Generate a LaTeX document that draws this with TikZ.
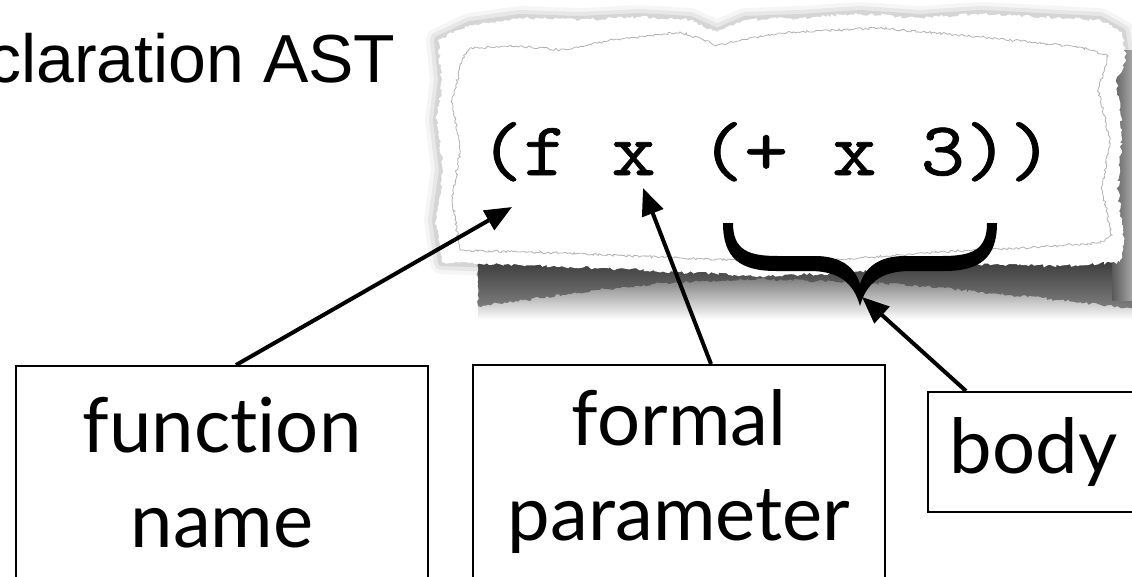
\documentclass[tikz,border=0pt]{standalone}
\usepackage{graphicx}
\usepackage{fontspec}
\setmainfont{Liberation Sans}
\newfontfamily\labelfont[Ligatures=NoCommon]{Lato}
\usetikzlibrary{arrows.meta, decorations.pathmorphing, calc}

% ragged outline of the torn paper
\newcommand{\paperoutline}{(438,40) -- (470,25) -- (520,18) -- (580,20) -- (640,17) -- (690,20) -- (717,32) -- (745,20) -- (800,18) -- (860,14) -- (920,18) -- (980,14) -- (1040,17) -- (1100,20) -- (1122,32) -- (1126,60) -- (1116,80) -- (1122,130) -- (1118,190) -- (1124,240) -- (1120,262) -- (1060,266) -- (980,265) -- (900,268) -- (840,273) -- (760,276) -- (680,272) -- (600,268) -- (520,265) -- (442,262) -- (436,220) -- (443,170) -- (437,120) -- (442,80) -- cycle}
% heavier typewriter text (fill and stroke the glyphs)
\newcommand{\heavytt}[1]{\special{pdf:literal direct 2 Tr 0.7 w}#1\special{pdf:literal direct 0 Tr}}

\begin{document}
\begin{tikzpicture}[x=1pt, y=-1pt,
    labelbox/.style={rectangle, draw=black, line width=2pt, fill=white, inner sep=0pt, align=center, font=\fontsize{76}{95}\selectfont\labelfont},
    arrow/.style={-{Triangle[length=27pt, width=22pt]}, line width=4pt},
    torn/.style={decorate, decoration={random steps, segment length=2.5pt, amplitude=1.6pt}},
    fibre/.style={decorate, decoration={random steps, segment length=2pt, amplitude=1.2pt}, draw=black!30, line width=0.8pt}
]
\useasboundingbox (0,0) rectangle (1132,576);
\pgfmathsetseed{42}

% shadows under the paper
\foreach \w/\o in {24/0.04, 16/0.06, 8/0.08} {
  \draw[black, opacity=\o, line width=\w pt, line join=round] \paperoutline;
}
\shade[top color=black!75, bottom color=white] (478,258) rectangle (1132,320);
\fill[black!80, opacity=0.55, torn] (478,262) -- (1132,262) -- (1132,308) -- (1060,300) -- (980,292) -- (900,284) -- (840,282) -- (760,279) -- (660,283) -- (600,290) -- (540,298) -- (478,306) -- cycle;
\shade[left color=black!65, right color=black!35] (1112,50) rectangle (1132,300);

% the paper itself
\fill[white, torn] \paperoutline;
\draw[fibre] (470,48) -- (520,46) -- (560,50) -- (613,40) -- (680,32) -- (717,45) -- (780,33) -- (880,28) -- (980,37) -- (1080,47) -- (1108,56) -- (1098,90) -- (1110,140) -- (1102,190) -- (1112,235) -- (1100,243) -- (1020,248) -- (940,252) -- (860,258) -- (780,262) -- (680,258) -- (560,253) -- (460,250) -- (452,200) -- (460,150) -- (452,100) -- (462,60) -- cycle;

% title and code
\node[anchor=base west, inner sep=0pt, font=\fontsize{68}{80}\selectfont] (title) at (-13,82) {claration AST};
\node[anchor=base west, inner sep=0pt, font=\fontsize{76}{90}\selectfont\ttfamily] (code) at (479,175) {\scalebox{1.128}[1]{\heavytt{(f x (+ x 3))}}};

% brace under the body
\fill (723,223) -- (733,223) .. controls (733,250) and (748,256) .. (778,256) -- (815,256)
  .. controls (842,256) and (855,268) .. (860,284) .. controls (865,268) and (878,256) .. (905,256)
  -- (942,256) .. controls (972,256) and (987,250) .. (987,223) -- (997,223)
  .. controls (997,258) and (980,271) .. (944,271) -- (910,271)
  .. controls (880,271) and (866,284) .. (860,306) .. controls (854,284) and (840,271) .. (810,271)
  -- (776,271) .. controls (740,271) and (723,258) .. (723,223) -- cycle;

% label boxes
\node[labelbox, minimum width=412pt, minimum height=214pt] (fname) at (222,473) {function\\name};
\node[labelbox, minimum width=412pt, minimum height=214pt] (fparam) at (679,472) {formal\\parameter};
\node[labelbox, minimum width=211pt, minimum height=120pt] (body) at (1033.5,452) {body};

% arrow targets in the code
\coordinate (fnametip) at (512,207);
\coordinate (paramtip) at (643,188);
\coordinate (bodytip) at (862,297);

% connections
\draw[arrow] ([xshift=221pt]fname.north west) -- (fnametip);
\draw[arrow] ([xshift=239pt]fparam.north west) -- (paramtip);
\draw[arrow] ([xshift=39pt]body.north west) -- (bodytip);
\end{tikzpicture}
\end{document}
